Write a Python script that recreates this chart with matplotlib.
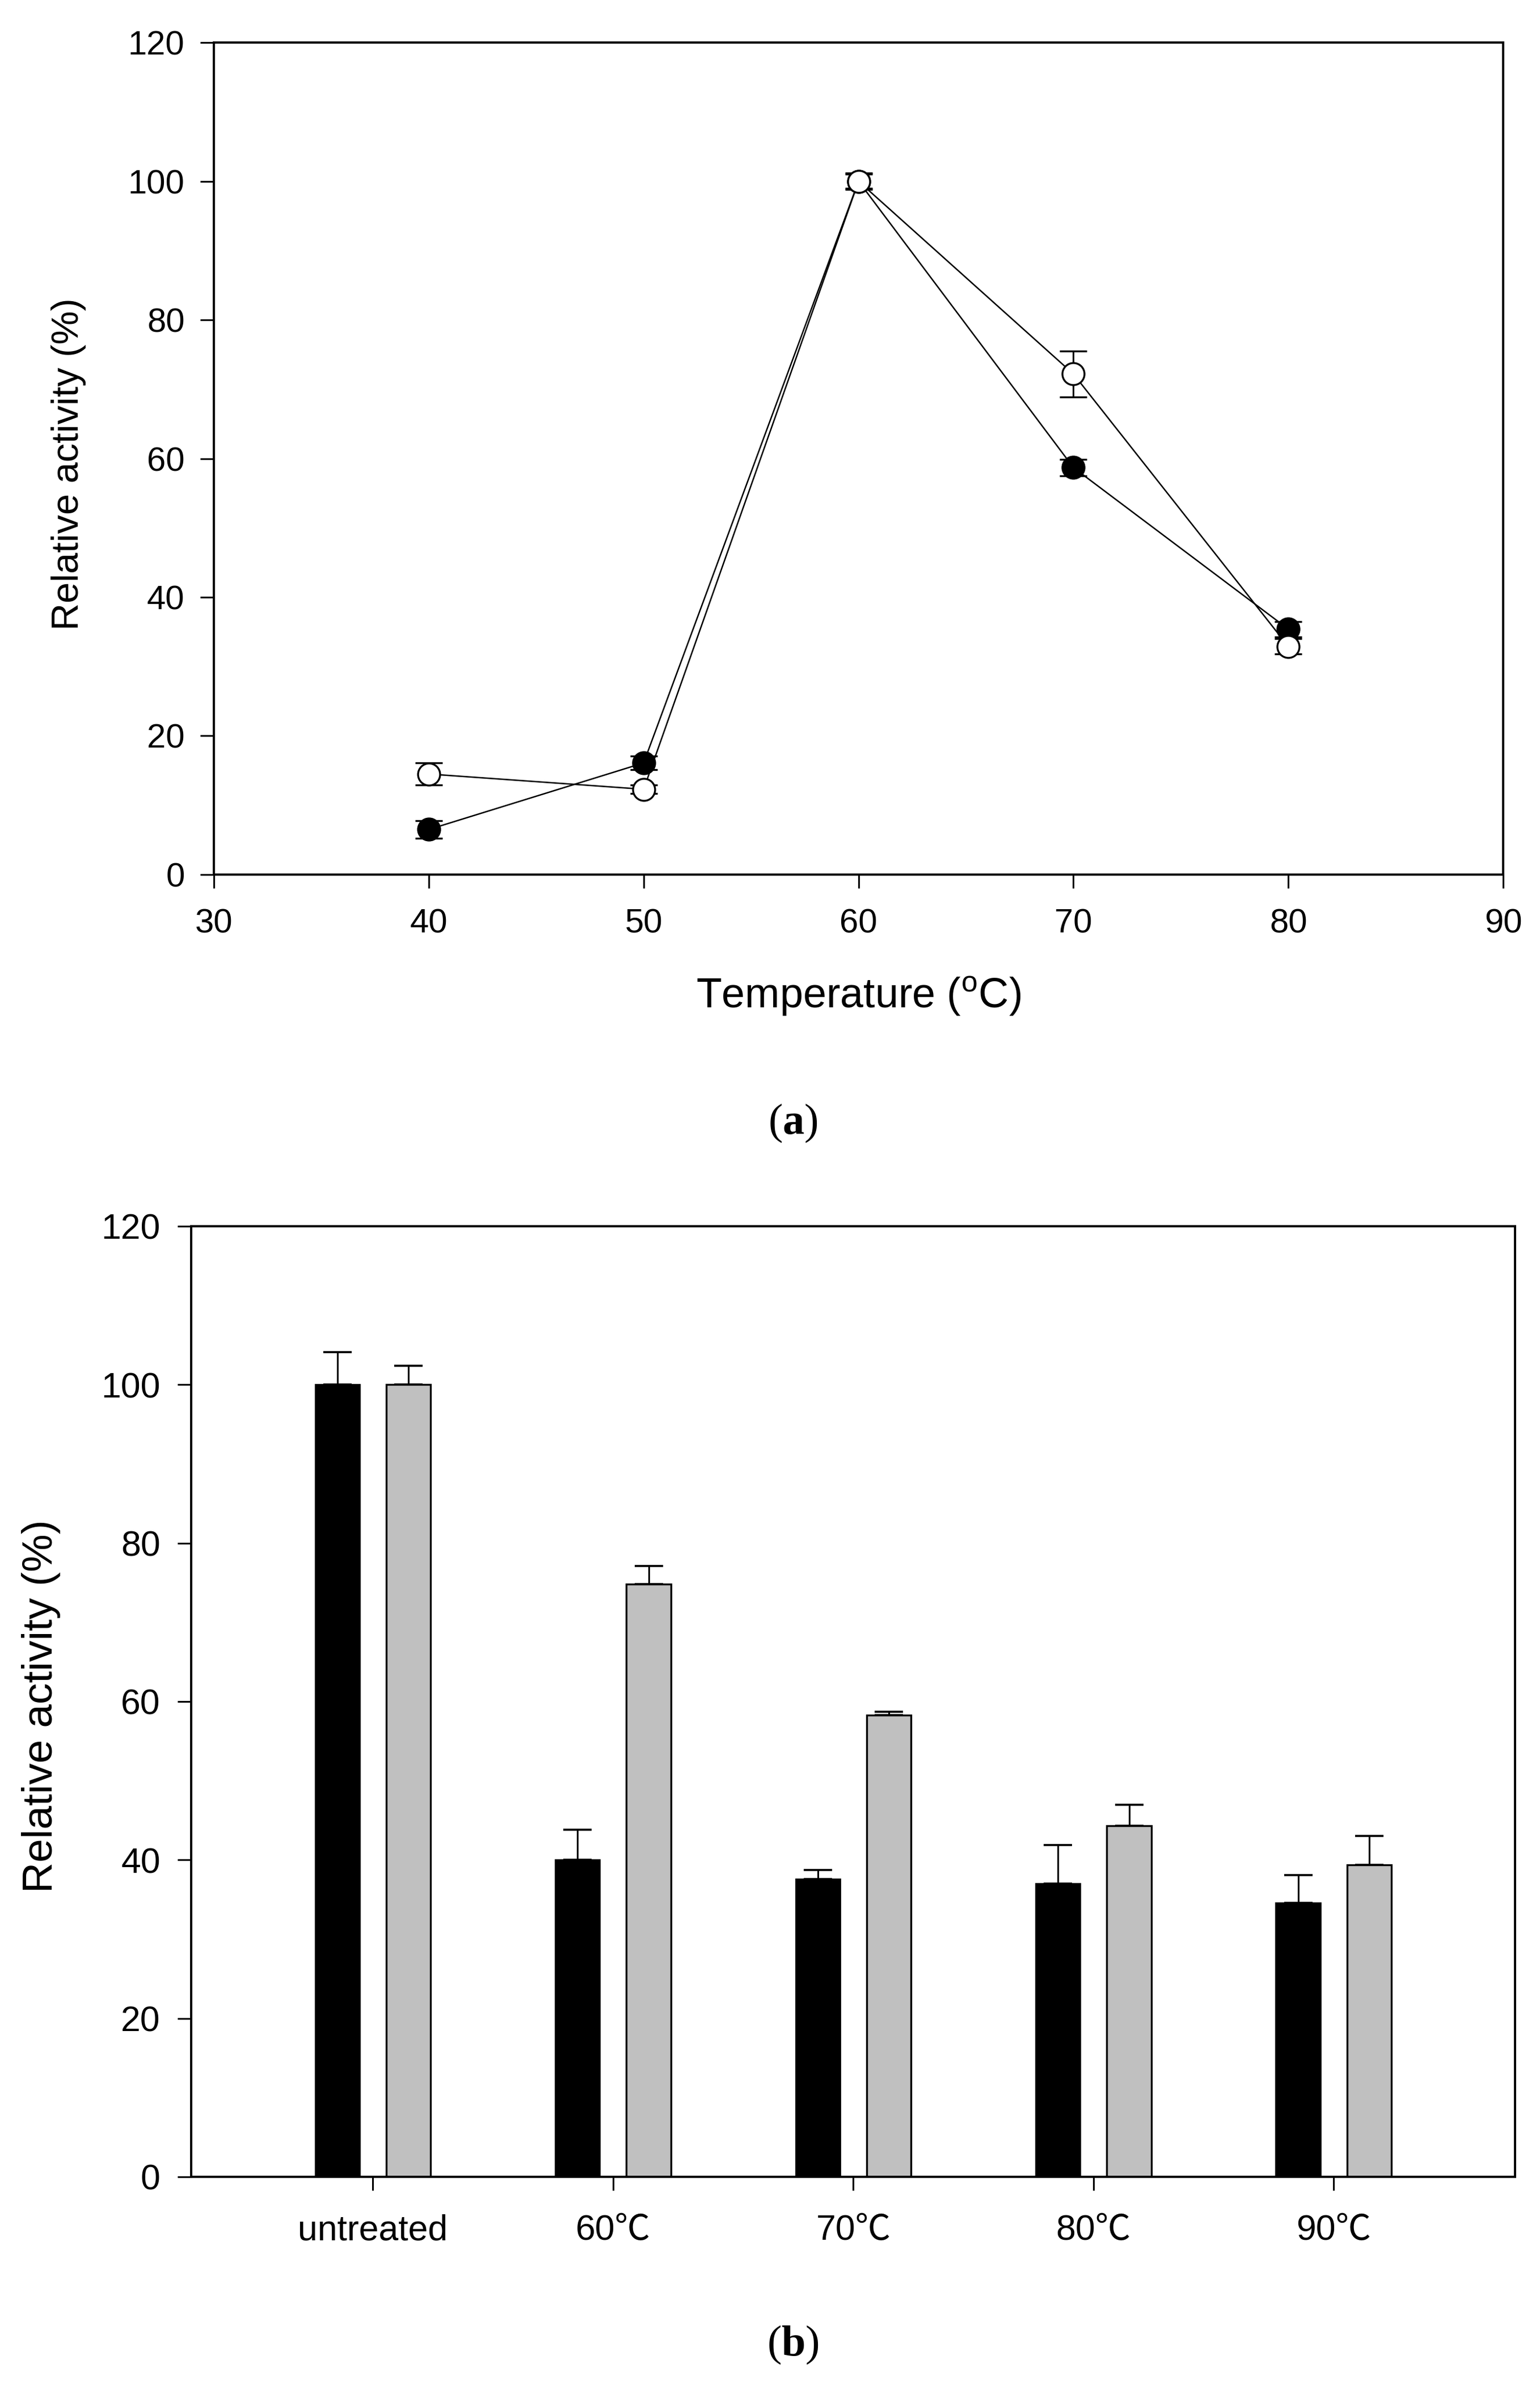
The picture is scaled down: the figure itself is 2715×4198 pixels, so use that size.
"""
Thermal activity / stability figure: (a) temperature profile, (b) heat treatment bars
"""

import matplotlib
matplotlib.use('Agg')
import matplotlib.pyplot as plt
import numpy as np

plt.rcParams['font.family'] = ['Liberation Sans', 'Noto Sans CJK SC', 'DejaVu Sans']
plt.rcParams['mathtext.fontset'] = 'custom'
plt.rcParams['mathtext.rm'] = 'Liberation Sans'
plt.rcParams['mathtext.bf'] = 'Liberation Serif:bold'

# (a) relative activity vs temperature
temps = [40, 50, 60, 70, 80]
filled_vals = [6.5, 16.1, 100.0, 58.7, 35.4]
filled_err = [1.3, 1.0, 1.0, 1.2, 1.1]
open_vals = [14.5, 12.3, 100.0, 72.2, 32.9]
open_err = [1.6, 0.6, 1.2, 3.3, 1.1]

# (b) relative activity after heat treatment
treatments = ['untreated', '60℃', '70℃', '80℃', '90℃']
black_vals = [100.0, 40.0, 37.6, 37.0, 34.6]
black_err = [4.1, 3.8, 1.1, 4.9, 3.5]
gray_vals = [100.0, 74.8, 58.3, 44.3, 39.4]
gray_err = [2.4, 2.3, 0.4, 2.7, 3.6]

fig = plt.figure(figsize=(27.15, 41.98), dpi=100)
fig.patch.set_facecolor('white')


def style_axes(ax, tick_size, xpad, ypad):
    for s in ax.spines.values():
        s.set_linewidth(2.8)
        s.set_color('black')
    ax.tick_params(axis='both', direction='out', length=17, width=2.2,
                   labelsize=tick_size, top=False, right=False)
    ax.tick_params(axis='x', pad=xpad)
    ax.tick_params(axis='y', pad=ypad)


# ---- panel (a) ----
ax1 = fig.add_axes([0.1389, 0.6327, 0.8372, 0.3494])
ax1.errorbar(temps, filled_vals, yerr=filled_err, fmt='-o', color='black',
             lw=1.8, ms=28, mfc='black', mec='black', mew=2.4,
             ecolor='black', elinewidth=2.2, capsize=17, capthick=2.4, zorder=3)
ax1.errorbar(temps, open_vals, yerr=open_err, fmt='-o', color='black',
             lw=1.8, ms=28, mfc='white', mec='black', mew=2.4,
             ecolor='black', elinewidth=2.2, capsize=17, capthick=2.4, zorder=4)
ax1.set_xlim(30, 90)
ax1.set_ylim(0, 120)
ax1.set_xticks(np.arange(30, 91, 10))
ax1.set_yticks(np.arange(0, 121, 20))
style_axes(ax1, 43, 26, 20)
ax1.set_xlabel(r'Temperature ($^{\mathrm{o}}$C)', fontsize=53)
ax1.xaxis.set_label_coords(0.5, -0.1459)
ax1.xaxis.label.set_va('center')
ax1.set_ylabel('Relative activity (%)', fontsize=48)
ax1.yaxis.set_label_coords(-0.1126, 0.4935)
ax1.yaxis.label.set_va('center')

# ---- panel (b) ----
ax2 = fig.add_axes([0.1241, 0.08576, 0.8597, 0.39924])
pos = np.arange(1, len(treatments) + 1)
bw = 0.185
off = 0.148
zeros = [0] * len(treatments)
ax2.bar(pos - off, black_vals, width=bw, color='black', edgecolor='black',
        lw=2.0, zorder=2)
ax2.bar(pos + off, gray_vals, width=bw, color='#c0c0c0', edgecolor='black',
        lw=2.4, zorder=2)
ax2.errorbar(pos - off, black_vals, yerr=[zeros, black_err], fmt='none',
             ecolor='black', elinewidth=2.2, capsize=18, capthick=2.6, zorder=1)
ax2.errorbar(pos + off, gray_vals, yerr=[zeros, gray_err], fmt='none',
             ecolor='black', elinewidth=2.2, capsize=18, capthick=2.6, zorder=1)
ax2.set_xlim(0.243, 5.755)
ax2.set_ylim(0, 120)
ax2.set_xticks(pos)
ax2.set_xticklabels(treatments)
ax2.set_yticks(np.arange(0, 121, 20))
style_axes(ax2, 45, 30, 22)
for lab in ax2.get_xticklabels():
    lab.set_fontsize(45)
ax2.set_ylabel('Relative activity (%)', fontsize=54)
ax2.yaxis.set_label_coords(-0.1131, 0.495)
ax2.yaxis.label.set_va('center')

# panel letters
fig.text(0.5149, 0.5283, r'($\mathbf{a}$)', fontsize=55, ha='center', va='center',
         family='Liberation Serif')
fig.text(0.5149, 0.01525, r'($\mathbf{b}$)', fontsize=55, ha='center', va='center',
         family='Liberation Serif')

plt.savefig('out.png', dpi=100, facecolor='white')
plt.close()
